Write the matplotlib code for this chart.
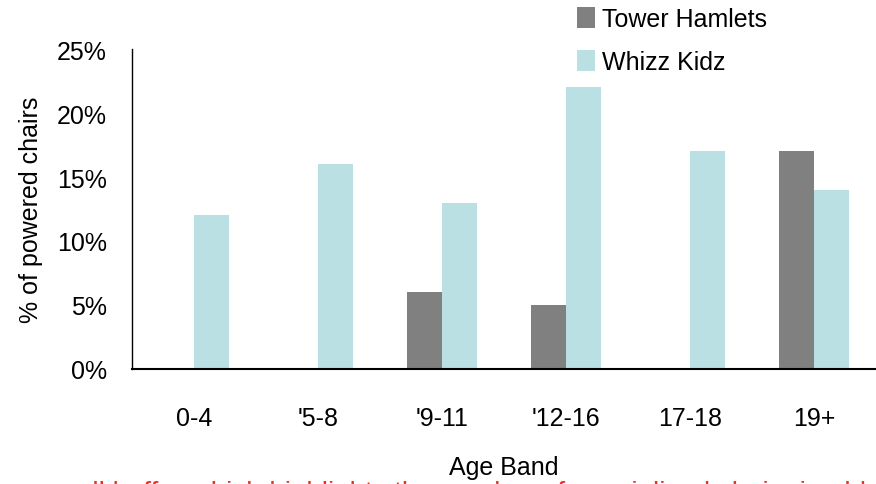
import matplotlib
matplotlib.use('Agg')
import matplotlib.pyplot as plt
from matplotlib.ticker import PercentFormatter
import numpy as np

# age bands and share of powered chairs (%)
age_bands = ["0-4", "'5-8", "'9-11", "'12-16", "17-18", "19+"]
tower_hamlets = [0, 0, 6, 5, 0, 17]
whizz_kidz = [12, 16, 13, 22, 17, 14]

GREY = '#808080'
TEAL = '#bae0e3'

plt.rcParams['font.family'] = ['Liberation Sans', 'DejaVu Sans']

fig = plt.figure(figsize=(8.76, 4.85), dpi=100)
ax = fig.add_axes([132 / 876, 1 - 370 / 485, 744 / 876, 320 / 485])

x = np.arange(len(age_bands))
w = 0.283
ax.bar(x - w / 2, tower_hamlets, w, color=GREY, label='Tower Hamlets')
ax.bar(x + w / 2, whizz_kidz, w, color=TEAL, label='Whizz Kidz')

ax.set_xlim(-0.5, len(age_bands) - 0.5)
ax.set_ylim(0, 25)
ax.set_yticks([0, 5, 10, 15, 20, 25])
ax.yaxis.set_major_formatter(PercentFormatter(decimals=0))
ax.set_xticks(x)
ax.set_xticklabels(age_bands)
ax.tick_params(axis='both', length=0, labelsize=18)
ax.tick_params(axis='x', pad=27)
ax.tick_params(axis='y', pad=18)

for s in ['top', 'right']:
    ax.spines[s].set_visible(False)
ax.spines['left'].set_linewidth(1)
ax.spines['bottom'].set_linewidth(1.5)

ax.set_ylabel('% of powered chairs', fontsize=18, labelpad=10)
ax.set_xlabel('Age Band', fontsize=18, labelpad=18)

fig.legend(loc='upper left', bbox_to_anchor=(567 / 876, 1 + 2 / 485),
           frameon=False, fontsize=18, handlelength=0.7, handleheight=0.9,
           handletextpad=0.3, labelspacing=0.75, borderaxespad=0)

# red note running off the bottom edge
fig.text(0.6, 1 - 481 / 485, 'all buffer which highlights the number of specialised chairs in older bands',
         color='#e8312a', fontsize=20, ha='center', va='top')

fig.savefig('out.png', dpi=100)
